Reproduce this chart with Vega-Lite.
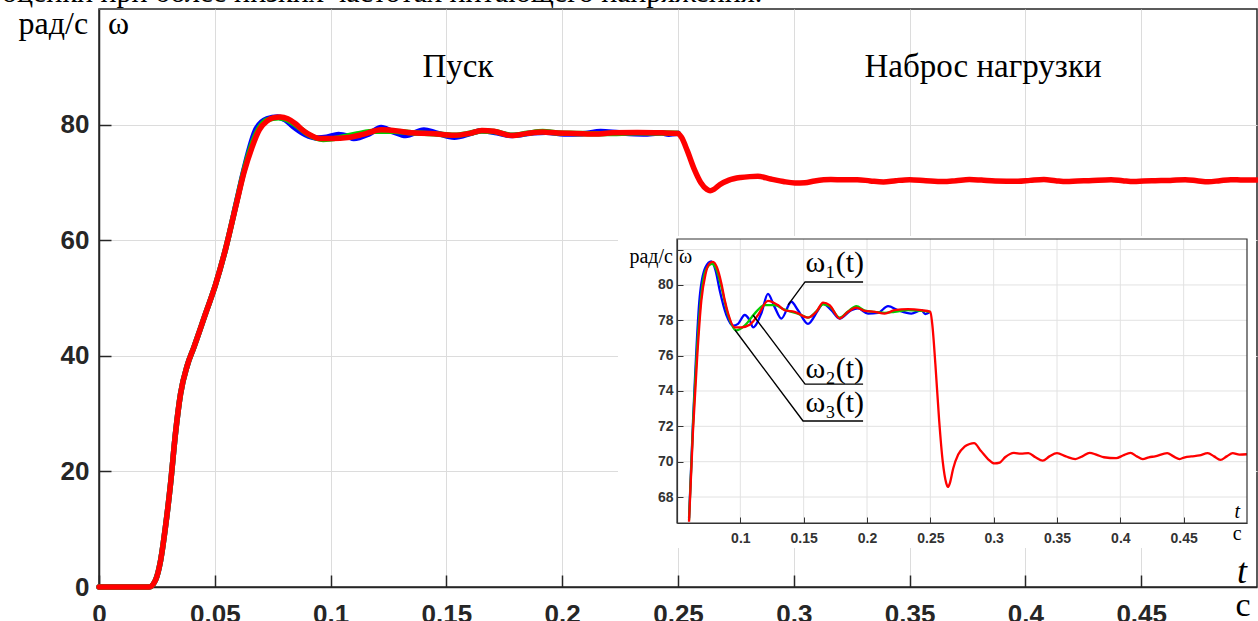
{
  "$schema": "https://vega.github.io/schema/vega-lite/v6.json",
  "width": 1158,
  "height": 578,
  "autosize": {"type": "none"},
  "padding": {"left": 99, "top": 9, "right": 1, "bottom": 34},
  "background": "white",
  "config": {
    "view": {"stroke": "#262626", "strokeWidth": 1.5},
    "text": {"color": "black"}
  },
  "datasets": {
    "omega": [
      {"s": "w1", "t": 0, "w": 0}, {"s": "w1", "t": 0.0216, "w": 0}, {"s": "w1", "t": 0.0244, "w": 1.2}, {"s": "w1", "t": 0.0266, "w": 4.6}, {"s": "w1", "t": 0.0287, "w": 10.4}, {"s": "w1", "t": 0.0309, "w": 17.9}, {"s": "w1", "t": 0.033, "w": 26.5}, {"s": "w1", "t": 0.0352, "w": 33.4}, {"s": "w1", "t": 0.0381, "w": 38.3}, {"s": "w1", "t": 0.041, "w": 41.5}, {"s": "w1", "t": 0.046, "w": 47.3}, {"s": "w1", "t": 0.0503, "w": 52.3}, {"s": "w1", "t": 0.0546, "w": 58.4}, {"s": "w1", "t": 0.0595, "w": 66.8},
      {"s": "w1", "t": 0.0626, "w": 72.2}, {"s": "w1", "t": 0.0679, "w": 79.3}, {"s": "w1", "t": 0.0725, "w": 81.0}, {"s": "w1", "t": 0.0771, "w": 81.33}, {"s": "w1", "t": 0.0805, "w": 80.8}, {"s": "w1", "t": 0.0837, "w": 79.7}, {"s": "w1", "t": 0.089, "w": 78.3}, {"s": "w1", "t": 0.0942, "w": 77.7}, {"s": "w1", "t": 0.0982, "w": 77.8}, {"s": "w1", "t": 0.1034, "w": 78.3}, {"s": "w1", "t": 0.1074, "w": 78.0}, {"s": "w1", "t": 0.11, "w": 77.6}, {"s": "w1", "t": 0.1166, "w": 78.4}, {"s": "w1", "t": 0.1218, "w": 79.5}, {"s": "w1", "t": 0.127, "w": 78.76}, {"s": "w1", "t": 0.1324, "w": 78.1}, {"s": "w1", "t": 0.1403, "w": 79.05}, {"s": "w1", "t": 0.1455, "w": 78.57}, {"s": "w1", "t": 0.1534, "w": 77.8}, {"s": "w1", "t": 0.1613, "w": 78.57}, {"s": "w1", "t": 0.1653, "w": 78.95}, {"s": "w1", "t": 0.1718, "w": 78.57}, {"s": "w1", "t": 0.1784, "w": 78.1}, {"s": "w1", "t": 0.1876, "w": 78.57}, {"s": "w1", "t": 0.1929, "w": 78.67}, {"s": "w1", "t": 0.2008, "w": 78.38}, {"s": "w1", "t": 0.2087, "w": 78.42}, {"s": "w1", "t": 0.2166, "w": 78.8}, {"s": "w1", "t": 0.2245, "w": 78.57}, {"s": "w1", "t": 0.235, "w": 78.38}, {"s": "w1", "t": 0.2429, "w": 78.57}, {"s": "w1", "t": 0.246, "w": 78.35}, {"s": "w1", "t": 0.25, "w": 78.48},
      {"s": "w2", "t": 0, "w": 0}, {"s": "w2", "t": 0.0216, "w": 0}, {"s": "w2", "t": 0.0244, "w": 1.2}, {"s": "w2", "t": 0.0266, "w": 4.6}, {"s": "w2", "t": 0.0287, "w": 10.4}, {"s": "w2", "t": 0.0309, "w": 17.9}, {"s": "w2", "t": 0.033, "w": 26.5}, {"s": "w2", "t": 0.0352, "w": 33.4}, {"s": "w2", "t": 0.0381, "w": 38.3}, {"s": "w2", "t": 0.041, "w": 41.5}, {"s": "w2", "t": 0.046, "w": 47.3}, {"s": "w2", "t": 0.0503, "w": 52.3}, {"s": "w2", "t": 0.0546, "w": 58.4}, {"s": "w2", "t": 0.0595, "w": 66.7},
      {"s": "w2", "t": 0.0626, "w": 72.0}, {"s": "w2", "t": 0.069, "w": 79.3}, {"s": "w2", "t": 0.0725, "w": 80.8}, {"s": "w2", "t": 0.0776, "w": 81.2}, {"s": "w2", "t": 0.081, "w": 80.9}, {"s": "w2", "t": 0.085, "w": 79.9}, {"s": "w2", "t": 0.0903, "w": 78.3}, {"s": "w2", "t": 0.0968, "w": 77.43}, {"s": "w2", "t": 0.1034, "w": 77.7}, {"s": "w2", "t": 0.1113, "w": 78.38}, {"s": "w2", "t": 0.1192, "w": 78.86}, {"s": "w2", "t": 0.127, "w": 78.86}, {"s": "w2", "t": 0.135, "w": 78.6}, {"s": "w2", "t": 0.1455, "w": 78.38}, {"s": "w2", "t": 0.1534, "w": 78.15}, {"s": "w2", "t": 0.16, "w": 78.5}, {"s": "w2", "t": 0.1653, "w": 78.9}, {"s": "w2", "t": 0.1705, "w": 78.8}, {"s": "w2", "t": 0.1784, "w": 78.15}, {"s": "w2", "t": 0.185, "w": 78.5}, {"s": "w2", "t": 0.1916, "w": 78.8}, {"s": "w2", "t": 0.1982, "w": 78.55}, {"s": "w2", "t": 0.206, "w": 78.48}, {"s": "w2", "t": 0.214, "w": 78.42}, {"s": "w2", "t": 0.2218, "w": 78.48}, {"s": "w2", "t": 0.2324, "w": 78.58}, {"s": "w2", "t": 0.2429, "w": 78.53}, {"s": "w2", "t": 0.25, "w": 78.48},
      {"s": "w3", "t": 0, "w": 0}, {"s": "w3", "t": 0.0216, "w": 0}, {"s": "w3", "t": 0.0244, "w": 1.2}, {"s": "w3", "t": 0.0266, "w": 4.6}, {"s": "w3", "t": 0.0287, "w": 10.4}, {"s": "w3", "t": 0.0309, "w": 17.9}, {"s": "w3", "t": 0.033, "w": 26.5}, {"s": "w3", "t": 0.0352, "w": 33.4}, {"s": "w3", "t": 0.0381, "w": 38.3}, {"s": "w3", "t": 0.041, "w": 41.5}, {"s": "w3", "t": 0.046, "w": 47.3}, {"s": "w3", "t": 0.0503, "w": 52.3}, {"s": "w3", "t": 0.0546, "w": 58.4}, {"s": "w3", "t": 0.0595, "w": 66.6},
      {"s": "w3", "t": 0.0626, "w": 71.7}, {"s": "w3", "t": 0.066, "w": 76.0}, {"s": "w3", "t": 0.0692, "w": 79.1}, {"s": "w3", "t": 0.0725, "w": 80.6}, {"s": "w3", "t": 0.0755, "w": 81.2}, {"s": "w3", "t": 0.0784, "w": 81.3}, {"s": "w3", "t": 0.0815, "w": 81.0}, {"s": "w3", "t": 0.085, "w": 80.1}, {"s": "w3", "t": 0.0878, "w": 79.1}, {"s": "w3", "t": 0.0903, "w": 78.4}, {"s": "w3", "t": 0.0955, "w": 77.6}, {"s": "w3", "t": 0.1008, "w": 77.6}, {"s": "w3", "t": 0.1074, "w": 77.75}, {"s": "w3", "t": 0.114, "w": 78.3}, {"s": "w3", "t": 0.1218, "w": 79.1}, {"s": "w3", "t": 0.1297, "w": 78.86}, {"s": "w3", "t": 0.135, "w": 78.57}, {"s": "w3", "t": 0.1429, "w": 78.48}, {"s": "w3", "t": 0.1534, "w": 78.15}, {"s": "w3", "t": 0.16, "w": 78.48}, {"s": "w3", "t": 0.1653, "w": 79.0}, {"s": "w3", "t": 0.1705, "w": 78.86}, {"s": "w3", "t": 0.1784, "w": 78.1}, {"s": "w3", "t": 0.185, "w": 78.48}, {"s": "w3", "t": 0.1916, "w": 78.72}, {"s": "w3", "t": 0.1982, "w": 78.53}, {"s": "w3", "t": 0.206, "w": 78.48}, {"s": "w3", "t": 0.214, "w": 78.38}, {"s": "w3", "t": 0.2218, "w": 78.57}, {"s": "w3", "t": 0.2324, "w": 78.63}, {"s": "w3", "t": 0.2429, "w": 78.57}, {"s": "w3", "t": 0.25, "w": 78.48},
      {"s": "w3", "t": 0.2515, "w": 77.8}, {"s": "w3", "t": 0.254, "w": 75.5}, {"s": "w3", "t": 0.257, "w": 72.3}, {"s": "w3", "t": 0.2598, "w": 70.0}, {"s": "w3", "t": 0.2625, "w": 68.8}, {"s": "w3", "t": 0.2639, "w": 68.57}, {"s": "w3", "t": 0.2655, "w": 68.8}, {"s": "w3", "t": 0.268, "w": 69.6}, {"s": "w3", "t": 0.272, "w": 70.4}, {"s": "w3", "t": 0.277, "w": 70.85}, {"s": "w3", "t": 0.281, "w": 71.0}, {"s": "w3", "t": 0.2845, "w": 71.05}, {"s": "w3", "t": 0.29, "w": 70.6}, {"s": "w3", "t": 0.2955, "w": 70.15}, {"s": "w3", "t": 0.3005, "w": 69.9}, {"s": "w3", "t": 0.3048, "w": 69.95}, {"s": "w3", "t": 0.309, "w": 70.25}, {"s": "w3", "t": 0.316, "w": 70.5}, {"s": "w3", "t": 0.3215, "w": 70.45}, {"s": "w3", "t": 0.3274, "w": 70.48}, {"s": "w3", "t": 0.333, "w": 70.25}, {"s": "w3", "t": 0.3387, "w": 70.06}, {"s": "w3", "t": 0.344, "w": 70.3}, {"s": "w3", "t": 0.35, "w": 70.48}, {"s": "w3", "t": 0.357, "w": 70.3}, {"s": "w3", "t": 0.3645, "w": 70.15}, {"s": "w3", "t": 0.37, "w": 70.3}, {"s": "w3", "t": 0.3758, "w": 70.5}, {"s": "w3", "t": 0.381, "w": 70.4}, {"s": "w3", "t": 0.387, "w": 70.25}, {"s": "w3", "t": 0.3968, "w": 70.2}, {"s": "w3", "t": 0.402, "w": 70.35}, {"s": "w3", "t": 0.408, "w": 70.5}, {"s": "w3", "t": 0.413, "w": 70.3}, {"s": "w3", "t": 0.4177, "w": 70.15}, {"s": "w3", "t": 0.4225, "w": 70.25}, {"s": "w3", "t": 0.4274, "w": 70.3}, {"s": "w3", "t": 0.437, "w": 70.48}, {"s": "w3", "t": 0.442, "w": 70.3}, {"s": "w3", "t": 0.4468, "w": 70.15}, {"s": "w3", "t": 0.451, "w": 70.25}, {"s": "w3", "t": 0.456, "w": 70.3}, {"s": "w3", "t": 0.4625, "w": 70.35}, {"s": "w3", "t": 0.469, "w": 70.48}, {"s": "w3", "t": 0.474, "w": 70.3}, {"s": "w3", "t": 0.479, "w": 70.1}, {"s": "w3", "t": 0.484, "w": 70.3}, {"s": "w3", "t": 0.4887, "w": 70.48}, {"s": "w3", "t": 0.494, "w": 70.4}, {"s": "w3", "t": 0.5, "w": 70.42}
    ],
    "callouts": [
      {"k": "w1", "o": 0, "t": 0.1377, "w": 78.87}, {"k": "w1", "o": 1, "t": 0.1511, "w": 80.17}, {"k": "w1", "o": 2, "t": 0.1969, "w": 80.17},
      {"k": "w2", "o": 0, "t": 0.11, "w": 78.3}, {"k": "w2", "o": 1, "t": 0.1511, "w": 74.39}, {"k": "w2", "o": 2, "t": 0.1969, "w": 74.39},
      {"k": "w3", "o": 0, "t": 0.0958, "w": 77.45}, {"k": "w3", "o": 1, "t": 0.1495, "w": 72.3}, {"k": "w3", "o": 2, "t": 0.1969, "w": 72.3}
    ],
    "insetGridT": [{"g": 0.1}, {"g": 0.15}, {"g": 0.2}, {"g": 0.25}, {"g": 0.3}, {"g": 0.35}, {"g": 0.4}, {"g": 0.45}],
    "insetGridW": [{"g": 68}, {"g": 70}, {"g": 72}, {"g": 74}, {"g": 76}, {"g": 78}, {"g": 80}, {"g": 82}]
  },
  "layer": [
    {
      "layer": [
        {
          "data": {"name": "omega"},
          "mark": {"type": "line", "strokeWidth": 5.5, "strokeJoin": "round", "strokeCap": "round", "interpolate": "monotone"},
          "encoding": {
            "x": {
              "field": "t", "type": "quantitative",
              "scale": {"domain": [0, 0.5], "nice": false, "zero": false},
              "axis": {"orient": "bottom", "title": null, "values": [0, 0.05, 0.1, 0.15, 0.2, 0.25, 0.3, 0.35, 0.4, 0.45], "format": "~g",
                "labelFont": "Liberation Sans", "labelFontWeight": "bold", "labelFontSize": 26, "labelColor": "#262626",
                "labelFlush": false, "labelBound": false, "labelOverlap": false,
                "tickSize": -12, "tickColor": "#262626", "tickWidth": 1.5, "labelPadding": 26,
                "domainColor": "#262626", "domainWidth": 1.5, "grid": true, "gridColor": "#dcdcdc", "gridWidth": 1}
            },
            "y": {
              "field": "w", "type": "quantitative",
              "scale": {"domain": [0, 100], "nice": false, "zero": false},
              "axis": {"orient": "left", "title": null, "values": [0, 20, 40, 60, 80],
                "labelFont": "Liberation Sans", "labelFontWeight": "bold", "labelFontSize": 26, "labelColor": "#262626",
                "labelFlush": false, "labelBound": false, "labelOverlap": false,
                "tickSize": -12, "tickColor": "#262626", "tickWidth": 1.5, "labelPadding": 22,
                "domainColor": "#262626", "domainWidth": 1.5, "grid": true, "gridColor": "#dcdcdc", "gridWidth": 1}
            },
            "color": {"field": "s", "type": "nominal", "scale": {"domain": ["w1", "w2", "w3"], "range": ["#0000ff", "#00d000", "#ff0000"]}, "legend": null}
          }
        },
        {"data": {"values": [{}]}, "mark": {"type": "text", "text": "оценки при более низких частотах питающего напряжения.", "font": "Liberation Serif", "fontSize": 30, "align": "left", "baseline": "alphabetic"},
         "encoding": {"x": {"datum": -0.0419, "type": "quantitative"}, "y": {"datum": 101.2, "type": "quantitative"}}},
        {"data": {"values": [{}]}, "mark": {"type": "text", "text": "рад/с", "font": "Liberation Serif", "fontSize": 32, "align": "right", "baseline": "alphabetic"},
         "encoding": {"x": {"datum": -0.0047, "type": "quantitative"}, "y": {"datum": 95.67, "type": "quantitative"}}},
        {"data": {"values": [{}]}, "mark": {"type": "text", "text": "ω", "font": "Liberation Serif", "fontSize": 32, "align": "left", "baseline": "alphabetic"},
         "encoding": {"x": {"datum": 0.0039, "type": "quantitative"}, "y": {"datum": 95.67, "type": "quantitative"}}},
        {"data": {"values": [{}]}, "mark": {"type": "text", "text": "Пуск", "font": "Liberation Serif", "fontSize": 33, "align": "center", "baseline": "alphabetic"},
         "encoding": {"x": {"datum": 0.155, "type": "quantitative"}, "y": {"datum": 88.2, "type": "quantitative"}}},
        {"data": {"values": [{}]}, "mark": {"type": "text", "text": "Наброс нагрузки", "font": "Liberation Serif", "fontSize": 33, "align": "center", "baseline": "alphabetic"},
         "encoding": {"x": {"datum": 0.3817, "type": "quantitative"}, "y": {"datum": 88.2, "type": "quantitative"}}},
        {"data": {"values": [{}]}, "mark": {"type": "text", "text": "t", "font": "Liberation Serif", "fontSize": 36, "fontStyle": "italic", "align": "center", "baseline": "alphabetic"},
         "encoding": {"x": {"datum": 0.4935, "type": "quantitative"}, "y": {"datum": 0.69, "type": "quantitative"}}},
        {"data": {"values": [{}]}, "mark": {"type": "text", "text": "с", "font": "Liberation Serif", "fontSize": 34, "align": "center", "baseline": "alphabetic"},
         "encoding": {"x": {"datum": 0.494, "type": "quantitative"}, "y": {"datum": -5.0, "type": "quantitative"}}}
      ]
    },
    {
      "layer": [
        {"data": {"values": [{}]}, "mark": {"type": "rect", "fill": "white", "strokeWidth": 0},
         "encoding": {"x": {"datum": 0.0034, "type": "quantitative"}, "x2": {"datum": 0.5071}, "y": {"datum": 65.11, "type": "quantitative"}, "y2": {"datum": 82.77}}},
        {"data": {"name": "insetGridT"}, "mark": {"type": "rule", "color": "#e2e2e2", "strokeWidth": 1},
         "encoding": {"x": {"field": "g", "type": "quantitative"}, "y": {"datum": 66.53, "type": "quantitative"}, "y2": {"datum": 82.6}}},
        {"data": {"name": "insetGridW"}, "mark": {"type": "rule", "color": "#e2e2e2", "strokeWidth": 1},
         "encoding": {"y": {"field": "g", "type": "quantitative"}, "x": {"datum": 0.05, "type": "quantitative"}, "x2": {"datum": 0.5}}},
        {
          "data": {"name": "omega"},
          "transform": [{"filter": "datum.t >= 0.0595"}],
          "mark": {"type": "line", "strokeWidth": 2.3, "strokeJoin": "round", "interpolate": "monotone"},
          "encoding": {
            "x": {
              "field": "t", "type": "quantitative",
              "scale": {"domain": [0.05, 0.5], "range": [578, 1148], "nice": false, "zero": false},
              "axis": {"orient": "bottom", "offset": -64, "title": null, "values": [0.1, 0.15, 0.2, 0.25, 0.3, 0.35, 0.4, 0.45], "format": "~g",
                "labelFont": "Liberation Sans", "labelFontWeight": "bold", "labelFontSize": 14, "labelColor": "#333333",
                "labelFlush": false, "labelBound": false, "labelOverlap": false,
                "tickSize": -6, "tickColor": "#333333", "labelPadding": 14,
                "domainColor": "#333333", "domainWidth": 1.2, "grid": false, "zindex": 1}
            },
            "y": {
              "field": "w", "type": "quantitative",
              "scale": {"domain": [66.53, 82.6], "range": [514, 230], "nice": false, "zero": false},
              "axis": {"orient": "left", "offset": -578, "title": null, "values": [68, 70, 72, 74, 76, 78, 80, 82],
                "labelExpr": "datum.value == 82 ? '' : datum.label",
                "labelFont": "Liberation Sans", "labelFontWeight": "bold", "labelFontSize": 14, "labelColor": "#333333",
                "labelFlush": false, "labelBound": false, "labelOverlap": false,
                "tickSize": -6, "tickColor": "#333333", "labelPadding": 10,
                "domainColor": "#333333", "domainWidth": 1.2, "grid": false, "zindex": 1}
            },
            "color": {"field": "s", "type": "nominal", "legend": null}
          }
        },
        {"data": {"name": "callouts"}, "mark": {"type": "line", "color": "black", "strokeWidth": 1.4},
         "encoding": {"x": {"field": "t", "type": "quantitative"}, "y": {"field": "w", "type": "quantitative"}, "detail": {"field": "k"}, "order": {"field": "o"}}},
        {"data": {"values": [{}]}, "mark": {"type": "rect", "fillOpacity": 0, "stroke": "#333333", "strokeWidth": 1.2},
         "encoding": {"x": {"datum": 0.05, "type": "quantitative"}, "x2": {"datum": 0.5}, "y": {"datum": 66.53, "type": "quantitative"}, "y2": {"datum": 82.6}}},
        {"data": {"values": [{}]}, "mark": {"type": "text", "text": "рад/с", "font": "Liberation Serif", "fontSize": 20, "align": "right", "baseline": "alphabetic"},
         "encoding": {"x": {"datum": 0.0468, "type": "quantitative"}, "y": {"datum": 81.25, "type": "quantitative"}}},
        {"data": {"values": [{}]}, "mark": {"type": "text", "text": "ω", "font": "Liberation Serif", "fontSize": 20, "align": "left", "baseline": "alphabetic"},
         "encoding": {"x": {"datum": 0.0516, "type": "quantitative"}, "y": {"datum": 81.25, "type": "quantitative"}}},
        {"data": {"values": [{}]}, "mark": {"type": "text", "text": "ω₁(t)", "font": "Liberation Serif", "fontSize": 30, "align": "center", "baseline": "alphabetic"},
         "encoding": {"x": {"datum": 0.1745, "type": "quantitative"}, "y": {"datum": 80.74, "type": "quantitative"}}},
        {"data": {"values": [{}]}, "mark": {"type": "text", "text": "ω₂(t)", "font": "Liberation Serif", "fontSize": 30, "align": "center", "baseline": "alphabetic"},
         "encoding": {"x": {"datum": 0.1745, "type": "quantitative"}, "y": {"datum": 74.73, "type": "quantitative"}}},
        {"data": {"values": [{}]}, "mark": {"type": "text", "text": "ω₃(t)", "font": "Liberation Serif", "fontSize": 30, "align": "center", "baseline": "alphabetic"},
         "encoding": {"x": {"datum": 0.1745, "type": "quantitative"}, "y": {"datum": 72.8, "type": "quantitative"}}},
        {"data": {"values": [{}]}, "mark": {"type": "text", "text": "t", "font": "Liberation Serif", "fontSize": 20, "fontStyle": "italic", "align": "center", "baseline": "alphabetic"},
         "encoding": {"x": {"datum": 0.4923, "type": "quantitative"}, "y": {"datum": 66.8, "type": "quantitative"}}},
        {"data": {"values": [{}]}, "mark": {"type": "text", "text": "с", "font": "Liberation Serif", "fontSize": 20, "align": "center", "baseline": "alphabetic"},
         "encoding": {"x": {"datum": 0.4923, "type": "quantitative"}, "y": {"datum": 65.55, "type": "quantitative"}}}
      ]
    }
  ],
  "resolve": {"scale": {"x": "independent", "y": "independent"}}
}
